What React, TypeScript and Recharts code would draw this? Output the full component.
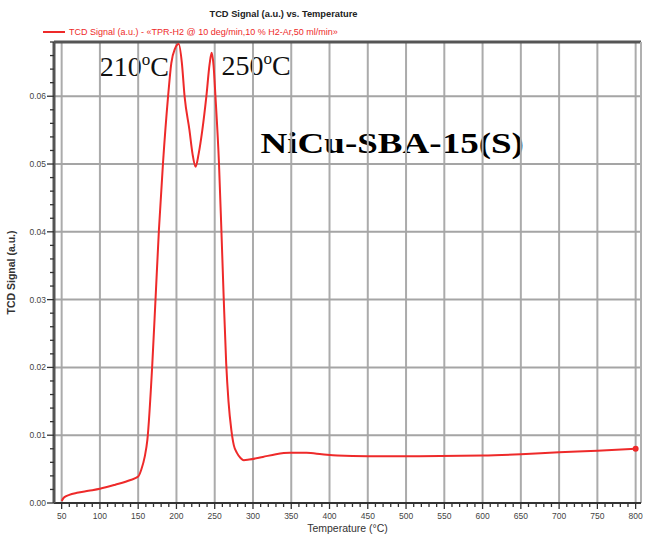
import React from 'react';
import { LineChart, Line, XAxis, YAxis, ReferenceLine, ReferenceArea } from 'recharts';

const temperature = [50, 53, 60, 70, 85, 100, 120, 140, 150, 154, 158.5, 162, 168.5, 172.8, 177.1, 182.4, 189, 193.3, 198, 203, 207, 210.7, 217, 221, 225, 229, 233.8, 239, 243.4, 246, 248.5, 251, 255.6, 258.7, 261.7, 265, 268, 271.7, 275, 279, 284, 288, 295, 313, 330, 348, 370, 390, 410, 450, 500, 600, 650, 700, 750, 800];
const tcdSignal = [0.0003, 0.0008, 0.0012, 0.0015, 0.0018, 0.0021, 0.0027, 0.0034, 0.0039, 0.0049, 0.0068, 0.0093, 0.0206, 0.0304, 0.0403, 0.0501, 0.0599, 0.0649, 0.067, 0.0677, 0.065, 0.0599, 0.055, 0.0515, 0.0496, 0.0515, 0.055, 0.0599, 0.0648, 0.0664, 0.0645, 0.0599, 0.05, 0.0403, 0.0304, 0.0206, 0.015, 0.0108, 0.0085, 0.0074, 0.0066, 0.0063, 0.0064, 0.0068, 0.0072, 0.0074, 0.0074, 0.0072, 0.007, 0.0069, 0.0069, 0.007, 0.0072, 0.0075, 0.0077, 0.008];

const xMajorTicks = [50, 100, 150, 200, 250, 300, 350, 400, 450, 500, 550, 600, 650, 700, 750, 800];
const yMajorTicks = [0, 0.01, 0.02, 0.03, 0.04, 0.05, 0.06];
const yMajorLabels = ['0.00', '0.01', '0.02', '0.03', '0.04', '0.05', '0.06'];
const xMinorTicks = Array.from({ length: 76 }, (_, i) => 50 + i * 10);
const yMinorTicks = Array.from({ length: 35 }, (_, i) => (i * 2) / 1000);

const X_DOMAIN: [number, number] = [40, 807];
const Y_DOMAIN: [number, number] = [0, 0.068];

const chartTitle = 'TCD Signal (a.u.) vs. Temperature';
const legendText = 'TCD Signal (a.u.) - «TPR-H2 @ 10 deg/min,10 % H2-Ar,50 ml/min»';
const xLabel = 'Temperature (°C)';
const yLabel = 'TCD Signal (a.u.)';
const sampleName = 'NiCu-SBA-15(S)';

const data = temperature.map((t, i) => ({ temperature: t, signal: tcdSignal[i] }));

const isMajorX = (v: number) => xMajorTicks.includes(v);
const isMajorY = (v: number) => yMajorTicks.some((m) => Math.abs(m - v) < 1e-9);

const XTick = (props: any) => {
  const { x, y, payload } = props;
  const v = payload.value;
  const axisY = y - 3;
  if (!isMajorX(v)) {
    return <line x1={x} x2={x} y1={axisY} y2={axisY + 4} stroke="#333" strokeWidth={1.3} />;
  }
  return (
    <g>
      <line x1={x} x2={x} y1={axisY} y2={axisY + 6} stroke="#333" strokeWidth={1.3} />
      <text x={x} y={axisY + 16} textAnchor="middle" fontSize={8.5} fill="#444" fontFamily="Liberation Sans, Arial, sans-serif">
        {v}
      </text>
    </g>
  );
};

const YTick = (props: any) => {
  const { x, y, payload } = props;
  const v = payload.value;
  const axisX = x + 3;
  if (!isMajorY(v)) {
    return <line x1={axisX - 4} x2={axisX} y1={y} y2={y} stroke="#333" strokeWidth={1.3} />;
  }
  const idx = yMajorTicks.findIndex((m) => Math.abs(m - v) < 1e-9);
  return (
    <g>
      <line x1={axisX - 7} x2={axisX} y1={y} y2={y} stroke="#333" strokeWidth={1.3} />
      <text x={axisX - 8} y={y} dy={3} textAnchor="end" fontSize={8.5} fill="#444" fontFamily="Liberation Sans, Arial, sans-serif">
        {yMajorLabels[idx]}
      </text>
    </g>
  );
};

const TempLabel = (text: string) => (props: any) => {
  const vb = props.viewBox;
  const cx = vb.x + vb.width / 2;
  const base = vb.y + vb.height - 4;
  return (
    <text x={cx} y={base} textAnchor="middle" fontSize={28} fill="#111" fontFamily="Liberation Serif, Times New Roman, serif">
      {text}
      <tspan fontSize={17} dy={-11}>o</tspan>
      <tspan dy={11}>C</tspan>
    </text>
  );
};

const NameLabel = (props: any) => {
  const vb = props.viewBox;
  return (
    <text
      x={vb.x + 3}
      y={vb.y + vb.height - 9}
      fontSize={30}
      fontWeight="bold"
      fill="#000"
      fontFamily="Liberation Serif, Times New Roman, serif"
      textLength={vb.width - 6}
      lengthAdjust="spacingAndGlyphs"
    >
      {sampleName}
    </text>
  );
};

export default function App() {
  const last = data.length - 1;
  return (
    <div style={{ position: 'absolute', left: 0, top: 0, width: 645, height: 535, background: '#fff' }}>
      <div
        style={{
          position: 'absolute',
          left: 0,
          top: 9,
          width: 567,
          textAlign: 'center',
          fontFamily: 'Liberation Sans, Arial, sans-serif',
          fontSize: 9.3,
          color: '#222',
          fontWeight: 600,
        }}
      >
        {chartTitle}
      </div>
      <div style={{ position: 'absolute', left: 43, top: 27, display: 'flex', alignItems: 'center' }}>
        <div style={{ width: 22, height: 2, background: '#ee2a2a', marginRight: 4 }} />
        <span style={{ fontFamily: 'Liberation Sans, Arial, sans-serif', fontSize: 9, color: '#ee2a2a', whiteSpace: 'nowrap' }}>
          {legendText}
        </span>
      </div>
      <LineChart width={645} height={535} data={data} margin={{ top: 42, right: 4, left: 0, bottom: 0 }}>
        <XAxis
          dataKey="temperature"
          type="number"
          domain={X_DOMAIN}
          allowDataOverflow
          ticks={xMinorTicks}
          interval={0}
          tick={<XTick />}
          tickSize={3}
          tickMargin={0}
          tickLine={false}
          axisLine={{ stroke: '#333', strokeWidth: 2 }}
          height={32}
          label={(p: any) => (
            <text
              x={p.viewBox.x + p.viewBox.width / 2}
              y={p.viewBox.y + 29}
              textAnchor="middle"
              fontSize={10.5}
              fill="#333"
              fontFamily="Liberation Sans, Arial, sans-serif"
            >
              {xLabel}
            </text>
          )}
        />
        <YAxis
          type="number"
          domain={Y_DOMAIN}
          allowDataOverflow
          ticks={yMinorTicks}
          interval={0}
          tick={<YTick />}
          tickSize={3}
          tickMargin={0}
          tickLine={false}
          axisLine={{ stroke: '#555', strokeWidth: 3 }}
          width={54}
          label={(p: any) => {
            const cx = 15;
            const cy = p.viewBox.y + p.viewBox.height / 2;
            return (
              <text
                x={cx}
                y={cy}
                transform={`rotate(-90 ${cx} ${cy})`}
                textAnchor="middle"
                fontSize={10.5}
                fill="#333"
                fontWeight={600}
                fontFamily="Liberation Sans, Arial, sans-serif"
              >
                {yLabel}
              </text>
            );
          }}
        />
        {xMajorTicks.map((v) => (
          <ReferenceLine key={'vx' + v} x={v} stroke="#ababab" strokeWidth={2} />
        ))}
        {yMajorTicks.slice(1).map((v) => (
          <ReferenceLine key={'hy' + v} y={v} stroke="#a5a5a5" strokeWidth={2} />
        ))}
        <ReferenceLine y={Y_DOMAIN[1]} stroke="#555" strokeWidth={3} />
        <ReferenceLine x={X_DOMAIN[1]} stroke="#b0b0b0" strokeWidth={2} />
        <ReferenceArea x1={731} x2={795} y1={0.0577} y2={0.0671} fill="#fff" fillOpacity={1} stroke="none" />
        <ReferenceArea x1={94} x2={196} y1={0.0624} y2={0.0668} fill="#fff" fillOpacity={1} stroke="none" label={TempLabel('210')} />
        <ReferenceArea x1={258} x2={350} y1={0.0626} y2={0.0663} fill="#fff" fillOpacity={1} stroke="none" label={TempLabel('250')} />
        <ReferenceArea x1={306} x2={658} y1={0.0503} y2={0.0558} fill="#fff" fillOpacity={1} stroke="none" label={NameLabel} />
        <Line
          type="monotone"
          dataKey="signal"
          stroke="#ee2a2a"
          strokeWidth={2}
          isAnimationActive={false}
          dot={(p: any) =>
            p.index === last ? <circle key={p.index} cx={p.cx} cy={p.cy} r={3} fill="#ee2a2a" /> : <g key={p.index} />
          }
        />
      </LineChart>
    </div>
  );
}
